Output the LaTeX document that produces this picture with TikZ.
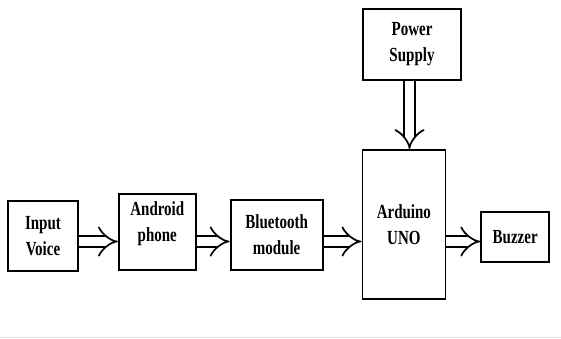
\documentclass[tikz,border=0pt]{standalone}
\usepackage{fontspec}
\setmainfont{Liberation Serif}[FakeStretch=0.75]
\usetikzlibrary{arrows.meta,positioning}

\begin{document}
\begin{tikzpicture}[
  x=1pt, y=1pt,
  font=\fontsize{20}{26}\selectfont\bfseries,
  block/.style={
    draw=black,
    line width=1.8pt,
    align=center,
    inner sep=0pt
  },
  dblarrow/.style={
    double, double distance=9pt, line width=1.7pt,
    -{Implies[length=10pt, width=22pt]}
  }
]
\useasboundingbox (0,0) rectangle (561,339);

\node[block, minimum width=70pt, minimum height=70pt] (voice) at (43,103) {Input\\Voice};

\node[block, minimum width=77pt, minimum height=76pt, right=39pt of voice, yshift=4pt] (phone)
  {Android\\phone\\[-6pt]};

\node[block, minimum width=92pt, minimum height=70pt, right=33pt of phone, yshift=-3pt] (bt)
  {Bluetooth\\module};

\node[block, minimum width=83pt, minimum height=149pt, right=38pt of bt, yshift=10.5pt] (uno)
  {Arduino\\UNO};

\node[block, minimum width=98pt, minimum height=71pt] (power) at (412,294.5)
  {Power\\Supply};

\node[block, minimum width=68pt, minimum height=50pt, right=34pt of uno, yshift=-12.5pt] (buzzer)
  {Buzzer};

% levels of the connectors
\coordinate (lvl) at (0,97.5);
\coordinate (pwr) at (409.5,0);

\draw[dblarrow] (voice.east |- lvl) -- (phone.west |- lvl);
\draw[dblarrow] (phone.east |- lvl) -- (bt.west |- lvl);
\draw[dblarrow] (bt.east |- lvl) -- (uno.west |- lvl);
\draw[dblarrow] (uno.east |- lvl) -- (buzzer.west |- lvl);
\draw[dblarrow] (power.south -| pwr) -- (uno.north -| pwr);

\draw[black!12, line width=1pt] (0,1.5) -- (561,1.5);
\end{tikzpicture}
\end{document}
